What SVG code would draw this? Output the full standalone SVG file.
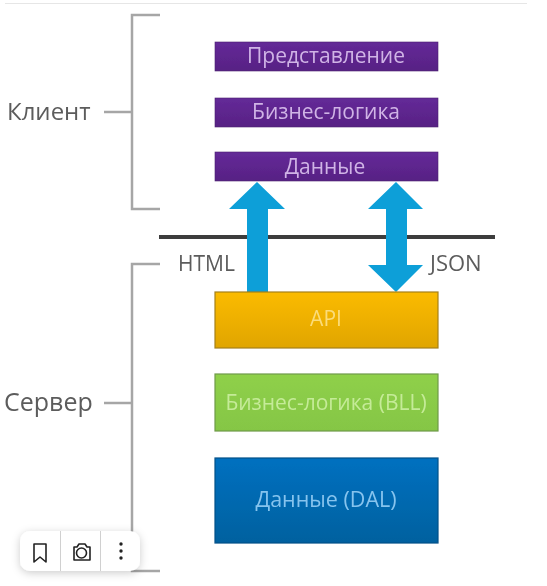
<svg xmlns="http://www.w3.org/2000/svg" width="547" height="586" viewBox="0 0 547 586">
<style>
text{font-family:"Open Sans","Noto Sans","DejaVu Sans",sans-serif;text-anchor:middle}
.lab{fill:#5c5c5c;text-anchor:start}
.tag{fill:#5c5c5c;text-anchor:start}
.pt{font-size:21px;fill:#d0b4e6}
.br{fill:none;stroke:#a6a6a6;stroke-width:2.5}
.arrow{fill:#0a9fd8}
.sep{stroke:#d0d0d0;stroke-width:1}
.ic{fill:none;stroke:#222;stroke-width:1.600;stroke-linejoin:round}
.soft{filter:url(#soft)}
</style>
<defs>
<linearGradient id="p" x1="0" y1="0" x2="0" y2="1"><stop offset="0" stop-color="#642a98"/><stop offset="1" stop-color="#572184"/></linearGradient>
<linearGradient id="y" x1="0" y1="0" x2="0" y2="1"><stop offset="0" stop-color="#fbbb00"/><stop offset="1" stop-color="#e0a500"/></linearGradient>
<linearGradient id="g" x1="0" y1="0" x2="0" y2="1"><stop offset="0" stop-color="#8fd04a"/><stop offset="1" stop-color="#85c645"/></linearGradient>
<linearGradient id="b" x1="0" y1="0" x2="0" y2="1"><stop offset="0" stop-color="#0270c0"/><stop offset="1" stop-color="#02619f"/></linearGradient>
<filter id="sh" x="-20%" y="-40%" width="140%" height="200%"><feDropShadow dx="0" dy="2" stdDeviation="4" flood-color="#000" flood-opacity=".2"/></filter>
<filter id="soft" filterUnits="userSpaceOnUse" x="0" y="0" width="547" height="586"><feGaussianBlur stdDeviation="0.700"/></filter>
</defs>
<rect width="547" height="586" fill="#fff"/>
<line x1="5" y1="3.500" x2="527" y2="3.500" stroke="#e6e6e6" stroke-width="1"/>
<g class="soft">
<g id="connectors">
<path class="br" d="M160 15H132V209H160"/>
<path class="br" d="M104 112H132"/>
<path class="br" d="M160 264H132V571H160"/>
<path class="br" d="M104 403H132"/>
<line x1="159" y1="237" x2="495" y2="237" stroke="#3c3c3c" stroke-width="4"/>
<path class="arrow" d="M257 182L285 209H268V292H247V209H229Z"/>
<path class="arrow" d="M396 182L423 209H407V265H423L396 292L368 265H386V209H368Z"/>
</g>
<g id="client"><text class="lab" x="7" y="120" font-size="24">Клиент</text></g>
<g id="server"><text class="lab" x="4" y="411" font-size="25">Сервер</text></g>
<g id="html"><text class="tag" x="178" y="271" font-size="21">HTML</text></g>
<g id="json"><text class="tag" x="430" y="271" font-size="22">JSON</text></g>
<g id="view"><rect x="215" y="42" width="223" height="29" fill="url(#p)" stroke="#4a2070" stroke-width=".6"/><text class="pt" x="326" y="63">Представление</text></g>
<g id="logic"><rect x="215" y="98" width="223" height="29" fill="url(#p)" stroke="#4a2070" stroke-width=".6"/><text class="pt" x="326" y="119">Бизнес-логика</text></g>
<g id="data"><rect x="215" y="152" width="223" height="29" fill="url(#p)" stroke="#4a2070" stroke-width=".6"/><text class="pt" x="325" y="174" font-size="21">Данные</text></g>
<g id="api"><rect x="215" y="292" width="223" height="56" fill="url(#y)" stroke="#a5801c" stroke-width="1.200"/><text x="326" y="326" font-size="21" fill="#fbdc7a">API</text></g>
<g id="bll"><rect x="215" y="374" width="223" height="57" fill="url(#g)" stroke="#6f9a48" stroke-width="1.200"/><text x="326" y="410" font-size="21" fill="#c5eb98">Бизнес-логика (BLL)</text></g>
<g id="dal"><rect x="215" y="458" width="223" height="85" fill="url(#b)" stroke="#0a5088" stroke-width="1.200"/><text x="326" y="507" font-size="21.500" fill="#86c4ee">Данные (DAL)</text></g>
</g>
<g id="toolbar">
<rect x="20" y="531" width="120" height="40" rx="10" fill="#fff" filter="url(#sh)"/>
<line class="sep" x1="60.500" y1="531" x2="60.500" y2="571"/>
<line class="sep" x1="100.500" y1="531" x2="100.500" y2="571"/>
<path class="ic" d="M34 544H46V562L40 557L34 562Z"/>
<path class="ic" d="M74 547H77L79 544H85L87 547H90V560H74Z"/>
<circle class="ic" cx="81.500" cy="553" r="5"/>
<circle cx="121" cy="544" r="1.700" fill="#222"/><circle cx="121" cy="551" r="1.700" fill="#222"/><circle cx="121" cy="558" r="1.700" fill="#222"/>
</g>
</svg>
